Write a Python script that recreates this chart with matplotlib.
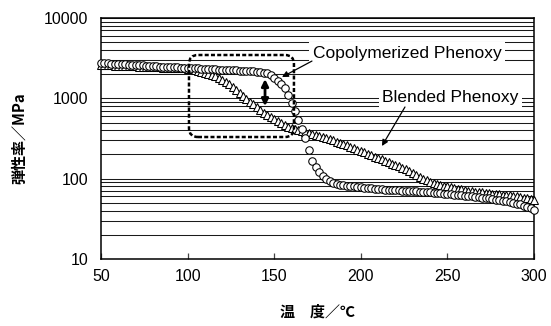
import matplotlib
matplotlib.use("Agg")
import matplotlib.pyplot as plt
from matplotlib.patches import FancyBboxPatch
from matplotlib.transforms import IdentityTransform
from matplotlib.ticker import LogLocator, FixedLocator, NullFormatter

# ---------------- data ----------------
temps = list(range(50, 301, 2))

copolymerized = [
    2750, 2730, 2720, 2700, 2690, 2680, 2660, 2650, 2630, 2620,
    2600, 2580, 2570, 2550, 2540, 2520, 2510, 2490, 2480, 2460,
    2450, 2440, 2430, 2420, 2410, 2400, 2390, 2370, 2360, 2340,
    2330, 2320, 2310, 2290, 2280, 2270, 2260, 2250, 2240, 2230,
    2220, 2210, 2190, 2180, 2160, 2150, 2120, 2090, 2050, 1930,
    1780, 1630, 1490, 1330, 1100, 880, 700, 540, 420, 320,
    225, 168, 139, 121, 108, 100, 94, 89, 86, 84,
    83, 82, 81, 80, 79, 78, 77, 76, 76, 75,
    74, 74, 73, 73, 72, 72, 72, 71, 71, 70,
    70, 70, 69, 69, 68, 68, 67, 66, 66, 65,
    64, 64, 63, 62, 62, 61, 60, 60, 59, 59,
    58, 57, 57, 56, 55, 54, 53, 52, 51, 50,
    49, 48, 46, 44, 43, 41,
]

blended = [
    2600, 2590, 2580, 2570, 2560, 2550, 2540, 2530, 2520, 2510,
    2500, 2490, 2480, 2470, 2460, 2450, 2440, 2430, 2420, 2410,
    2400, 2390, 2380, 2370, 2360, 2340, 2300, 2250, 2200, 2140,
    2080, 2020, 1950, 1870, 1790, 1700, 1600, 1500, 1390, 1280,
    1170, 1080, 990, 910, 840, 770, 715, 665, 620, 580,
    550, 520, 495, 470, 445, 430, 415, 400, 390, 380,
    370, 360, 350, 340, 330, 320, 310, 300, 290, 280,
    270, 260, 250, 240, 230, 220, 212, 204, 196, 188,
    180, 174, 167, 160, 154, 148, 142, 137, 131, 124,
    116, 110, 105, 100, 96, 92, 89, 87, 84, 82,
    80, 78, 77, 75, 74, 72, 71, 70, 69, 68,
    68, 67, 66, 65, 65, 64, 63, 62, 62, 61,
    60, 59, 58, 57, 56, 55,
]

x_ticks = [50, 100, 150, 200, 250, 300]
y_ticks = [10, 100, 1000, 10000]
y_ticklabels = ["10", "100", "1000", "10000"]

label_copo = "Copolymerized Phenoxy"
label_blend = "Blended Phenoxy"
xlabel = "温　度／℃"
ylabel = "弾性率／MPa"

# ---------------- figure ----------------
num_font = "Liberation Sans"
cjk = ["Noto Sans CJK JP", "DejaVu Sans"]

fig = plt.figure(figsize=(5.51, 3.26), dpi=100)
ax = fig.add_axes([101 / 551, 1 - 259 / 326, (534 - 101) / 551, (259 - 18) / 326])

ax.set_yscale("log")
ax.set_xlim(50, 300)
ax.set_ylim(10, 10000)

ax.yaxis.set_minor_locator(LogLocator(base=10, subs=range(2, 10)))
ax.yaxis.set_minor_formatter(NullFormatter())
ax.yaxis.grid(True, which="both", color="#1a1a1a", lw=0.75)
ax.set_axisbelow(True)

ax.set_yticks(y_ticks)
ax.set_yticklabels(y_ticklabels, fontfamily=num_font, fontsize=11.5)
ax.tick_params(axis="y", which="both", length=0, pad=9)

ax.xaxis.set_major_locator(FixedLocator(x_ticks))
ax.set_xticklabels([str(t) for t in x_ticks], fontfamily=num_font, fontsize=11.5)
ax.tick_params(axis="x", which="major", direction="in", length=4, width=0.9,
               pad=7, color="#444444")

for s in ax.spines.values():
    s.set_color("black")
    s.set_linewidth(1.1)

ax.plot(temps, blended, linestyle="none", marker="^", markersize=6.0,
        markerfacecolor="white", markeredgecolor="black", markeredgewidth=0.75,
        zorder=3, clip_on=False)
ax.plot(temps, copolymerized, linestyle="none", marker="o", markersize=5.4,
        markerfacecolor="white", markeredgecolor="black", markeredgewidth=0.75,
        zorder=4, clip_on=False)

ax.set_xlabel(xlabel, fontfamily=cjk, fontsize=10.8, fontweight="bold", labelpad=14)
ax.set_ylabel(ylabel, fontfamily=cjk, fontsize=10.8, fontweight="bold", labelpad=12)

# annotations
bbox_w = dict(facecolor="white", edgecolor="none", pad=2.5)
ax.text(226.7, 3180, label_copo, ha="center", va="baseline", fontfamily=num_font,
        fontsize=12.5, bbox=bbox_w, zorder=5)
ax.text(251.8, 900, label_blend, ha="center", va="baseline", fontfamily=num_font,
        fontsize=12.5, bbox=bbox_w, zorder=5)

ax.annotate("", xy=(154.5, 1841), xytext=(171.8, 2911),
            arrowprops=dict(arrowstyle="-|>", color="black", lw=0.9,
                            mutation_scale=9, shrinkA=0, shrinkB=0), zorder=6)
ax.annotate("", xy=(212.2, 255), xytext=(225.5, 780),
            arrowprops=dict(arrowstyle="-|>", color="black", lw=0.9,
                            mutation_scale=9, shrinkA=0, shrinkB=0), zorder=6)

# double arrow
ax.annotate("", xy=(144.7, 1737), xytext=(144.7, 800),
            arrowprops=dict(arrowstyle="<|-|>", color="black", lw=2.0,
                            mutation_scale=10, shrinkA=0, shrinkB=0), zorder=6)

# dashed rounded box
p0 = ax.transData.transform((100.8, 330))
p1 = ax.transData.transform((161.4, 3462))
box = FancyBboxPatch((p0[0], p0[1]), p1[0] - p0[0], p1[1] - p0[1],
                     boxstyle="round,pad=0,rounding_size=9",
                     transform=IdentityTransform(), fill=False,
                     edgecolor="black", lw=1.8, linestyle=(0, (1.6, 0.9)),
                     zorder=6)
fig.add_artist(box)

fig.savefig("out.png", dpi=100)
